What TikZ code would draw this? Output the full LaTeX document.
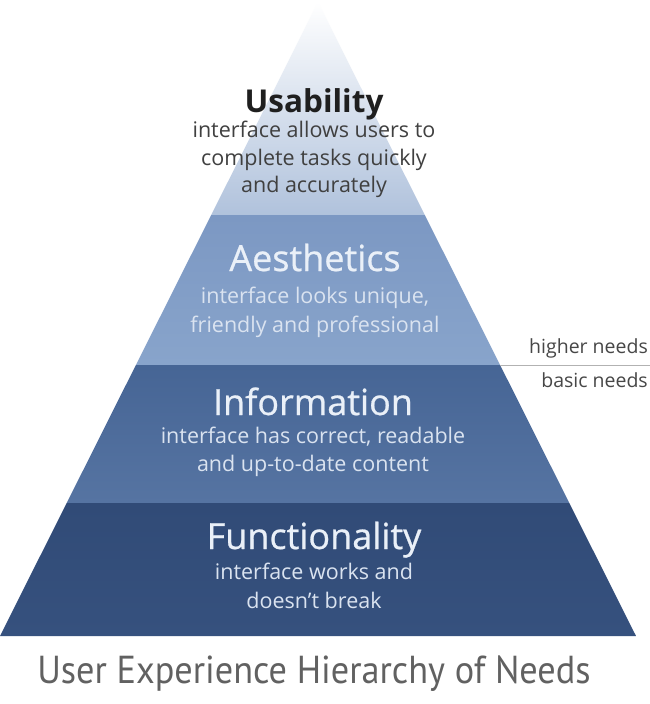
\documentclass[tikz,border=0pt]{standalone}
\usepackage{fontspec}
\setmainfont{Open Sans}
\newfontfamily\headfont[FakeBold=0.7]{Open Sans}
\newfontfamily\titlefont[FakeStretch=0.93]{PT Sans}
\begin{document}
\begin{tikzpicture}[x=1pt,y=-1pt,
  head/.style={font=\headfont\fontsize{36}{40}\selectfont, inner sep=0pt, anchor=base},
  sub/.style={font=\fontsize{21.5}{28}\selectfont, inner sep=0pt, anchor=base},
  side/.style={font=\fontsize{19.5}{22}\selectfont, text=black!72, inner sep=0pt, anchor=base east}]
\definecolor{usaB}{RGB}{176,194,220}
\definecolor{aesT}{RGB}{124,152,195}
\definecolor{aesB}{RGB}{136,164,203}
\definecolor{infT}{RGB}{70,101,149}
\definecolor{infB}{RGB}{86,116,162}
\definecolor{funT}{RGB}{49,75,119}
\definecolor{funB}{RGB}{54,81,126}
\definecolor{lite}{RGB}{234,240,248}
\definecolor{sublite}{RGB}{218,227,240}
\useasboundingbox (0,0) rectangle (650,704);
\fill[white] (0,0) rectangle (650,704);
% bands
\shade[top color=white, bottom color=usaB] (318,2) -- (424.8,215) -- (211.2,215) -- cycle;
\shade[top color=aesT, bottom color=aesB] (211.2,215) -- (424.8,215) -- (500.1,365) -- (135.9,365) -- cycle;
\shade[top color=infT, bottom color=infB] (135.9,365) -- (500.1,365) -- (569.3,503) -- (66.7,503) -- cycle;
\shade[top color=funT, bottom color=funB] (66.7,503) -- (569.3,503) -- (636,636) -- (0,636) -- cycle;
% Usability
\node[head, font=\fontsize{31.5}{36}\selectfont\bfseries, text=black!88] (usa) at (314,112) {Usability};
\node[sub, text=black!75] (usa1) at (314,137) {interface allows users to};
\node[sub, text=black!75] (usa2) at (314,165) {complete tasks quickly};
\node[sub, text=black!75] (usa3) at (314,192) {and accurately};
% Aesthetics
\node[head, text=lite] (aes) at (315,271) {Aesthetics};
\node[sub, text=sublite] (aes1) at (315,303) {interface looks unique,};
\node[sub, text=sublite] (aes2) at (315,332) {friendly and professional};
% Information
\node[head, text=lite] (inf) at (313,415) {Information};
\node[sub, text=sublite] (inf1) at (313,443) {interface has correct, readable};
\node[sub, text=sublite] (inf2) at (313,471) {and up-to-date content};
% Functionality
\node[head, text=lite] (fun) at (314,549) {Functionality};
\node[sub, text=sublite] (fun1) at (314,579) {interface works and};
\node[sub, text=sublite] (fun2) at (314,608) {doesn't break};
% divider
\coordinate (dl) at (500.1,365);
\coordinate (dr) at (650,365);
\draw[black!30, line width=0.8pt] (dl) -- (dr);
\node[side] (hi) at (648,353) {higher needs};
\node[side] (lo) at (648,387) {basic needs};
% title
\node[font=\titlefont\fontsize{39}{44}\selectfont, text=black!62, inner sep=0pt, anchor=base] (title) at (314,683) {User Experience Hierarchy of Needs};
\end{tikzpicture}
\end{document}
